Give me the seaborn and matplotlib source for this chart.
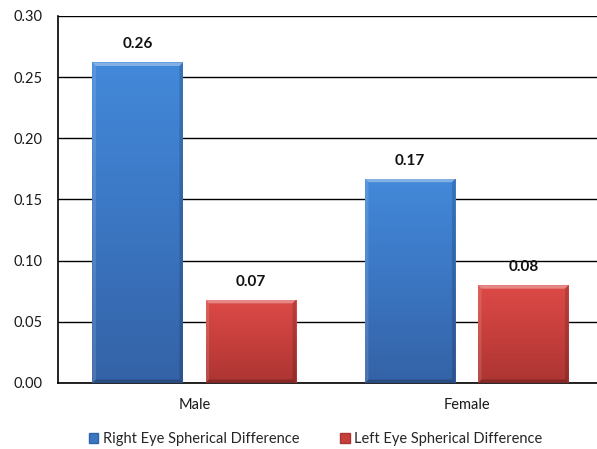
import numpy as np
import pandas as pd
import matplotlib
matplotlib.use("Agg")
import matplotlib.pyplot as plt
from matplotlib.patches import Polygon, Patch
from matplotlib.colors import LinearSegmentedColormap
import seaborn as sns

# Data
genders = ["Male", "Female"]
series_names = ["Right Eye Spherical Difference", "Left Eye Spherical Difference"]
right_eye = [0.262, 0.167]
left_eye = [0.068, 0.080]
y_ticks = [0.00, 0.05, 0.10, 0.15, 0.20, 0.25, 0.30]

df = pd.DataFrame({
    "Gender": genders * 2,
    "Series": [series_names[0]] * 2 + [series_names[1]] * 2,
    "Value": right_eye + left_eye,
})

sns.set_theme(style="white")
plt.rcParams["font.family"] = ["Lato", "DejaVu Sans"]

top_colors = {series_names[0]: "#4389da", series_names[1]: "#dc4a47"}
bottom_colors = {series_names[0]: "#3462a6", series_names[1]: "#ab3533"}
mid_colors = {series_names[0]: "#3b76c2", series_names[1]: "#c63f3c"}

fig = plt.figure(figsize=(5.97, 4.49), dpi=100)
ax = fig.add_axes([58 / 597, 66 / 449, 545 / 597, 367 / 449])

sns.barplot(data=df, x="Gender", y="Value", hue="Series", order=genders,
            hue_order=series_names, palette=mid_colors, width=0.83, gap=0.2,
            legend=False, ax=ax, zorder=3)

ax.set_ylim(0, 0.30)
ax.set_xlim(-0.5, 1.5)
ax.set_yticks(y_ticks)
ax.set_yticklabels([f"{t:.2f}" for t in y_ticks])
ax.yaxis.grid(True, color="black", linewidth=1.0, zorder=0)
ax.set_axisbelow(True)
ax.set_xlabel("")
ax.set_ylabel("")
for side in ["top", "right"]:
    ax.spines[side].set_visible(False)
for side in ["left", "bottom"]:
    ax.spines[side].set_color("black")
    ax.spines[side].set_linewidth(1.2)
ax.tick_params(axis="both", length=0, labelsize=10.5, colors="#1a1a1a")
ax.tick_params(axis="y", pad=11)
ax.tick_params(axis="x", pad=11)

# Pixel sizes in data units, for the bevel edges
px_x = 1.0 / 272.5
px_y = 0.30 / 367.0
bev_x = 3.5 * px_x
bev_y = 3.5 * px_y

patches = list(ax.patches)
series_by_patch = []
for name in series_names:
    series_by_patch += [name] * len(genders)

for patch, name in zip(patches, series_by_patch):
    x0 = patch.get_x()
    w = patch.get_width()
    h = patch.get_height()
    patch.set_edgecolor("none")
    cmap = LinearSegmentedColormap.from_list(
        "bar", [bottom_colors[name], mid_colors[name], top_colors[name]])
    grad = np.linspace(0, 1, 256).reshape(-1, 1)
    im = ax.imshow(grad, extent=[x0, x0 + w, 0, h], origin="lower",
                   cmap=cmap, aspect="auto", zorder=4)
    im.set_clip_path(patch)
    # bevel: light top, shaded sides and bottom
    x1 = x0 + w
    top = Polygon([[x0, h], [x1, h], [x1 - bev_x, h - bev_y], [x0 + bev_x, h - bev_y]],
                  closed=True, facecolor="white", alpha=0.35, edgecolor="none", zorder=5)
    left = Polygon([[x0, 0], [x0, h], [x0 + bev_x, h - bev_y], [x0 + bev_x, bev_y]],
                   closed=True, facecolor="white", alpha=0.12, edgecolor="none", zorder=5)
    right = Polygon([[x1, 0], [x1, h], [x1 - bev_x, h - bev_y], [x1 - bev_x, bev_y]],
                    closed=True, facecolor="black", alpha=0.15, edgecolor="none", zorder=5)
    bottom = Polygon([[x0, 0], [x1, 0], [x1 - bev_x, bev_y], [x0 + bev_x, bev_y]],
                     closed=True, facecolor="black", alpha=0.22, edgecolor="none", zorder=5)
    for p in (top, left, right, bottom):
        ax.add_patch(p)
    ax.annotate(f"{h:.2f}", (x0 + w / 2, h), xytext=(0, 8), textcoords="offset points",
                ha="center", va="bottom", fontsize=11, fontweight="bold", color="#111111")

ax.set_xlim(-0.5, 1.5)
ax.set_ylim(0, 0.30)

handles = [Patch(facecolor=mid_colors[n], edgecolor=bottom_colors[n], label=n)
           for n in series_names]
fig.legend(handles=handles, loc="center", bbox_to_anchor=(315.5 / 597, 10 / 449),
           ncol=2, frameon=False, fontsize=10.5, handlelength=0.65, handleheight=0.65,
           handletextpad=0.3, columnspacing=2.8)

fig.savefig("out.png", dpi=100)
